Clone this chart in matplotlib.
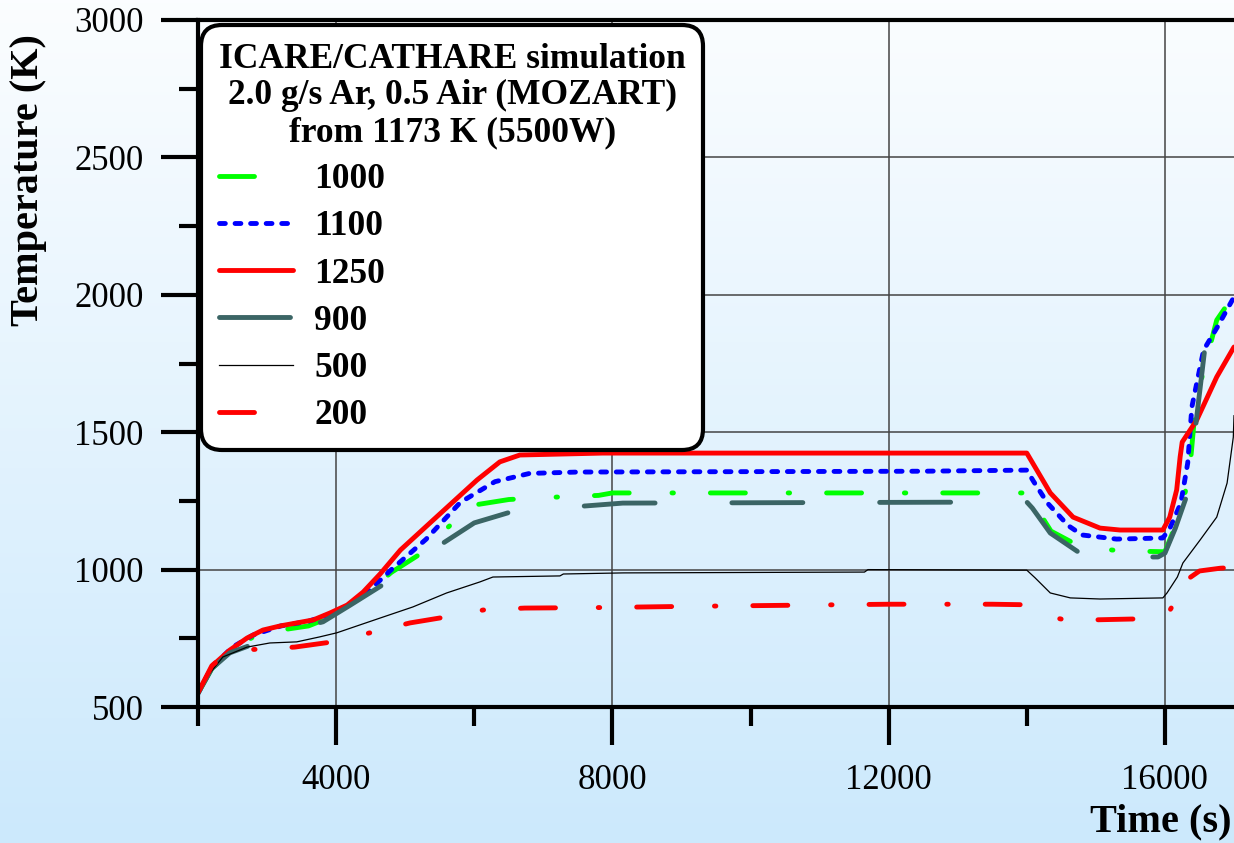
import matplotlib

matplotlib.use("Agg")
import matplotlib.pyplot as plt
import numpy as np
from matplotlib.ticker import MultipleLocator

plt.rcParams["font.family"] = ["Liberation Serif", "DejaVu Serif"]

# --- data (time in s, temperature in K) ---
t_1000 = [2000, 2200, 2500, 2800, 3200, 3600, 4000, 4400, 4800, 5300, 5600, 6000,
          6500, 7000, 7800, 8000, 14000, 14100, 14350, 14800, 15400, 16000, 16200,
          16350, 16450, 16750, 17000]
T_1000 = [550, 640, 710, 755, 780, 795, 835, 905, 990, 1070, 1150, 1235,
          1255, 1262, 1270, 1279, 1279, 1240, 1140, 1080, 1068, 1065, 1190,
          1337, 1617, 1908, 2000]

t_1100 = [2000, 2200, 2500, 2800, 3200, 3600, 4000, 4400, 4800, 5300, 5800, 6300,
          6800, 7500, 12500, 14000, 14100, 14300, 14600, 14800, 15300, 15970, 16070,
          16230, 16330, 16390, 16560, 16760, 17000]
T_1100 = [550, 645, 718, 762, 795, 812, 845, 905, 1000, 1110, 1245, 1320,
          1350, 1355, 1358, 1362, 1320, 1242, 1160, 1126, 1111, 1115, 1150,
          1242, 1388, 1592, 1799, 1883, 1992]

t_1250 = [2000, 2220, 2460, 2710, 2940, 3190, 3430, 3670, 3910, 4160, 4390, 4640,
          4930, 5360, 6040, 6370, 6660, 7860, 14000, 14340, 14670, 15060, 15350,
          15970, 16070, 16170, 16220, 16250, 16460, 16750, 17000]
T_1250 = [552, 653, 707, 751, 780, 795, 806, 817, 842, 871, 918, 985,
          1071, 1170, 1326, 1392, 1417, 1424, 1424, 1279, 1191, 1151, 1144,
          1144, 1191, 1290, 1410, 1464, 1544, 1701, 1810]

t_900 = [2000, 2200, 2460, 2850, 3200, 3810, 4200, 4740, 5200, 5620, 6000, 6600,
         7630, 8150, 14000, 14080, 14340, 14810, 15000, 15900, 16000, 16150, 16330,
         16460, 16580]
T_900 = [550, 640, 697, 733, 770, 810, 870, 955, 1040, 1108, 1170, 1215,
         1232, 1242, 1246, 1224, 1133, 1053, 1045, 1046, 1060, 1150, 1279,
         1555, 1810]

t_500 = [2000, 2360, 2710, 3040, 3430, 3760, 4010, 4640, 5110, 5600, 6080, 6270,
         7240, 7290, 8160, 11650, 11700, 14000, 14120, 14340, 14630, 15060, 15970,
         16030, 16180, 16260, 16510, 16750, 16900, 16990, 17000]
T_500 = [569, 682, 718, 733, 737, 755, 770, 824, 864, 915, 955, 973,
         977, 984, 988, 991, 1000, 998, 970, 915, 897, 893, 897,
         915, 973, 1024, 1108, 1191, 1315, 1482, 1560]

t_200 = [2000, 2200, 2450, 2850, 3400, 3950, 4490, 5070, 5600, 6130, 6730, 7860,
         9000, 10500, 12000, 13500, 14000, 14300, 14600, 15500, 16000, 16100, 16300,
         16500, 16800, 17000]
T_200 = [552, 650, 705, 710, 718, 737, 770, 806, 828, 853, 860, 862,
         866, 870, 874, 874, 872, 830, 815, 820, 822, 864, 960,
         995, 1005, 1008]

legend_title = "ICARE/CATHARE simulation\n2.0 g/s Ar, 0.5 Air (MOZART)\nfrom 1173 K (5500W)"

fig = plt.figure(figsize=(12.34, 8.43), dpi=100)

# vertical white -> light blue background
bg = fig.add_axes([0, 0, 1, 1], zorder=-10)
grad = np.linspace(0, 1, 256)[:, None]
top = np.array([0.985, 0.993, 1.0])
bottom = np.array([0.80, 0.914, 0.99])
img = top + (bottom - top) * grad[..., None]
bg.imshow(img, aspect="auto", extent=[0, 1, 0, 1], origin="upper")
bg.axis("off")

ax = fig.add_axes([198 / 1234, 136 / 843, 1036 / 1234, 687 / 843])
ax.set_facecolor("none")

lw = 3.5
dashdot = (7.2, 8.8, 0.3, 7.6)
ax.plot(t_1000, T_1000, color="#00ff00", lw=lw, dashes=dashdot,
        dash_capstyle="round", solid_capstyle="round", label="1000")
ax.plot(t_1100, T_1100, color="#0000ff", lw=lw, dashes=(1.2, 2.0),
        dash_capstyle="round", label="1100")
ax.plot(t_1250, T_1250, color="#ff0000", lw=lw, solid_capstyle="round", label="1250")
ax.plot(t_900, T_900, color="#3b6565", lw=lw, dashes=(14.6, 15.8),
        dash_capstyle="round", label="900")
ax.plot(t_500, T_500, color="black", lw=0.9, label="500")
ax.plot(t_200, T_200, color="#ff0000", lw=lw, dashes=dashdot,
        dash_capstyle="round", label="200")

ax.set_xlim(2000, 17000)
ax.set_ylim(500, 3000)
ax.xaxis.set_major_locator(MultipleLocator(4000))
ax.xaxis.set_minor_locator(MultipleLocator(2000))
ax.yaxis.set_major_locator(MultipleLocator(500))
ax.yaxis.set_minor_locator(MultipleLocator(250))
ax.grid(True, which="major", color="#444444", lw=1.1)
ax.set_axisbelow(True)

for side in ("left", "bottom", "top"):
    ax.spines[side].set_linewidth(3)
ax.spines["right"].set_visible(False)
ax.tick_params(which="major", direction="out", length=27, width=3, labelsize=25, pad=12)
ax.tick_params(which="minor", direction="out", length=14, width=3)
ax.tick_params(axis="x", which="major", pad=14)

fig.text(29 / 1234, 1 - 180 / 843, "Temperature (K)", rotation=90, fontsize=29,
         fontweight="bold", ha="center", va="center")
fig.text(1232 / 1234, 3 / 843, "Time (s)", fontsize=29, fontweight="bold",
         ha="right", va="bottom")

leg = ax.legend(loc="upper left", bbox_to_anchor=(0.003, 0.993), borderaxespad=0,
                title=legend_title, fontsize=25.5, title_fontsize=25.5,
                handlelength=2.1, handletextpad=0.6, labelspacing=0.4,
                borderpad=0.5, framealpha=1, fancybox=True, alignment="left")
title = leg.get_title()
title.set_fontweight("bold")
title.set_linespacing(1.15)
title.set_multialignment("center")
for txt in leg.get_texts():
    txt.set_fontweight("bold")
frame = leg.get_frame()
frame.set_edgecolor("black")
frame.set_linewidth(3)
frame.set_boxstyle("round,pad=0,rounding_size=0.6")

fig.savefig("out.png", dpi=100)
